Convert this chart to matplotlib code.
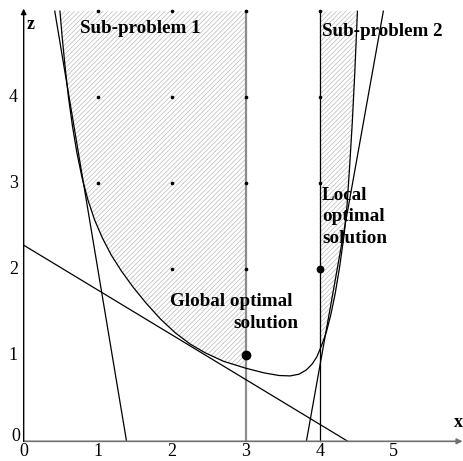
import numpy as np
import matplotlib
matplotlib.use("Agg")
import matplotlib.pyplot as plt
from matplotlib.patches import Polygon

plt.rcParams["font.family"] = ["Liberation Serif", "DejaVu Serif"]
plt.rcParams["hatch.linewidth"] = 0.45

# Nonlinear constraint boundary (x, z)
curve_x = [0.49, 0.52, 0.56, 0.605, 0.66, 0.72, 0.79, 0.87, 0.96, 1.06,
           1.18, 1.32, 1.48, 1.66, 1.85, 2.05, 2.25, 2.45, 2.70, 3.00,
           3.25, 3.45, 3.60, 3.72, 3.82, 3.90, 3.96, 4.00, 4.05, 4.09,
           4.15, 4.21, 4.27, 4.33, 4.37, 4.405, 4.44, 4.475, 4.51]
curve_z = [5.00, 4.70, 4.35, 4.00, 3.66, 3.35, 3.06, 2.80, 2.57, 2.37,
           2.17, 1.98, 1.79, 1.60, 1.42, 1.26, 1.13, 1.03, 0.93, 0.85,
           0.795, 0.765, 0.76, 0.78, 0.83, 0.90, 0.98, 1.06, 1.17, 1.27,
           1.47, 1.72, 2.03, 2.40, 2.75, 3.20, 3.70, 4.30, 5.00]

# Linearisation cuts, each given by two end points
cut_steep_left = [(1.39, 0.0), (0.42, 5.0)]
cut_shallow = [(0.0, 2.28), (4.38, 0.0)]
cut_steep_right = [(3.82, 0.0), (4.86, 5.0)]

# Integer points inside the feasible region
grid_x = [1, 1, 1, 2, 2, 2, 2, 3, 3, 3, 3, 4, 4, 4]
grid_z = [3, 4, 5, 2, 3, 4, 5, 2, 3, 4, 5, 3, 4, 5]

global_opt = (3, 1)
local_opt = (4, 2)

x_ticks = [0, 1, 2, 3, 4, 5]
z_ticks = [0, 1, 2, 3, 4]
z_top = 5.0

fig = plt.figure(figsize=(4.64, 4.61), dpi=100)
ax = fig.add_axes([0, 0, 1, 1])
ax.set_xlim(-0.32, 5.95)
ax.set_ylim(-0.229, 5.13)
ax.axis("off")

cx = np.array(curve_x)
cz = np.array(curve_z)

hatch_grey = "#b4b4b4"
# Sub-problem 1: x <= 3 above the boundary
m1 = cx <= 3.0
poly1 = list(zip(cx[m1], cz[m1])) + [(3.0, z_top)]
ax.add_patch(Polygon(poly1, closed=True, facecolor="white", edgecolor=hatch_grey,
                     linewidth=0, hatch="///////", zorder=1))
# Sub-problem 2: x >= 4 above the boundary
m2 = cx >= 4.0
poly2 = list(zip(cx[m2], cz[m2])) + [(4.0, z_top)]
ax.add_patch(Polygon(poly2, closed=True, facecolor="white", edgecolor=hatch_grey,
                     linewidth=0, hatch="///////", zorder=1))

# Boundary curve
ax.plot(cx, cz, color="black", lw=0.9, zorder=3)

# Cuts
for seg in (cut_steep_left, cut_shallow, cut_steep_right):
    (xa, za), (xb, zb) = seg
    ax.plot([xa, xb], [za, zb], color="black", lw=0.9, zorder=3)

# Branching bounds
ax.plot([3, 3], [0, z_top], color="#8c8c8c", lw=1.6, zorder=2)
ax.plot([4, 4], [0, z_top], color="black", lw=0.9, zorder=2)

# Integer points
ax.plot(grid_x, grid_z, "o", color="black", ms=1.6, zorder=4)
ax.plot(*global_opt, "o", color="black", ms=6.0, zorder=5)
ax.plot(*local_opt, "o", color="black", ms=4.6, zorder=5)

# Coordinate axes with arrows
ax.annotate("", xy=(5.93, 0), xytext=(0, 0),
            arrowprops=dict(arrowstyle="-|>", color="#707070", lw=1.2,
                            mutation_scale=8, shrinkA=0, shrinkB=0), zorder=6)
ax.annotate("", xy=(0, 5.03), xytext=(0, 0),
            arrowprops=dict(arrowstyle="-|>", color="black", lw=1.0,
                            mutation_scale=8, shrinkA=0, shrinkB=0), zorder=6)

for t in x_ticks:
    ax.text(t, -0.025, str(t), ha="center", va="top", fontsize=13)
for t in z_ticks:
    if t == 0:
        ax.text(-0.05, 0.06, "0", ha="right", va="center", fontsize=13)
    else:
        ax.text(-0.08, t, str(t), ha="right", va="center", fontsize=13)

ax.text(5.93, 0.12, "x", ha="right", va="bottom", fontsize=13, fontweight="bold")
ax.text(0.09, 4.85, "z", ha="center", va="center", fontsize=13, fontweight="bold")

ax.text(0.76, 4.8, "Sub-problem 1", ha="left", va="center",
        fontsize=13.7, fontweight="bold")
ax.text(4.03, 4.76, "Sub-problem 2", ha="left", va="center",
        fontsize=13.7, fontweight="bold")
ax.text(4.03, 2.61, "Local\noptimal\nsolution", ha="left", va="center",
        fontsize=13.7, fontweight="bold", linespacing=1.33)
ax.text(1.98, 1.63, "Global optimal", ha="left", va="center",
        fontsize=13.7, fontweight="bold")
ax.text(2.83, 1.37, "solution", ha="left", va="center",
        fontsize=13.7, fontweight="bold")

fig.savefig("out.png", dpi=100)
